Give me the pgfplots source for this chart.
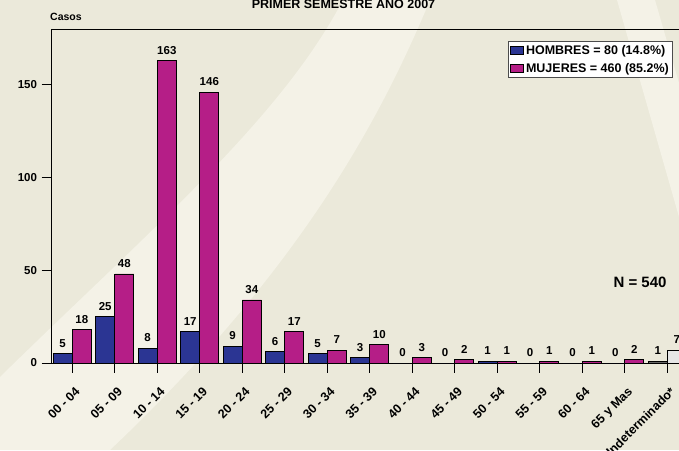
\documentclass[border=0pt]{standalone}
\usepackage{fontspec}
\setmainfont{Liberation Sans}
\usepackage{pgfplots}
\pgfplotsset{compat=1.18}

\definecolor{fondo}{HTML}{EBE9DA}
\definecolor{fondoclaro}{HTML}{F4F2E7}
\definecolor{hombres}{HTML}{2B3593}
\definecolor{mujeres}{HTML}{B51E87}
\definecolor{indet}{HTML}{666666}
\definecolor{indetclaro}{HTML}{E6E6E6}

\begin{document}
\begin{tikzpicture}[x=1pt,y=1pt]
\useasboundingbox (0,0) rectangle (679,450);
\clip (0,0) rectangle (679,450);
% fondo con franjas claras
\fill[fondo] (0,0) rectangle (679,450);
\fill[fondoclaro] (0,73) .. controls (150,220) and (280,330) .. (343,450)
  -- (430,450) .. controls (380,330) and (300,180) .. (110,0) -- (0,0) -- cycle;
\fill[fondoclaro] (617,450) -- (655,450) -- (679,367) -- (679,233) -- cycle;

\begin{axis}[
    at={(51pt,87pt)}, anchor=south west,
    scale only axis,
    width=658.75pt, height=334pt,
    xmin=-0.5, xmax=15,
    ymin=0, ymax=180,
    axis line style={black, line width=0.8pt},
    xtick={0,...,14},
    xticklabels={00 - 04, 05 - 09, 10 - 14, 15 - 19, 20 - 24, 25 - 29, 30 - 34,
                 35 - 39, 40 - 44, 45 - 49, 50 - 54, 55 - 59, 60 - 64,
                 65 y Mas, Indeterminado*},
    ytick={0,50,100,150},
    xtick pos=lower, ytick pos=left,
    tick align=outside,
    major tick length=9.5pt,
    tick style={black, line width=0.8pt},
    /pgf/number format/assume math mode=true,
    ticklabel style={font=\fontsize{11.5}{13}\selectfont\bfseries},
    x tick label style={font=\fontsize{12.5}{14}\selectfont\bfseries,
        rotate=45, anchor=north east, inner sep=1pt, xshift=-7pt, yshift=-10pt},
    y tick label style={xshift=-1pt},
    ybar, bar width=0.45,
    nodes near coords,
    every node near coord/.append style={font=\fontsize{11.5}{13}\selectfont\bfseries, yshift=2.5pt},
    legend style={at={(0.6937,0.964)}, anchor=north west,
        draw=black!70, line width=0.9pt, fill=white,
        font=\fontsize{12.5}{14}\selectfont\bfseries,
        inner xsep=2pt, inner ysep=2pt, row sep=3pt},
    legend cell align=left,
    legend image code/.code={\draw[#1, draw=black, line width=0.6pt] (0pt,-3.5pt) rectangle (13pt,4pt);},
]
\addplot[fill=hombres, draw=black, line width=0.8pt, bar shift=-0.225] coordinates {
  (0,5) (1,25) (2,8) (3,17) (4,9) (5,6) (6,5) (7,3) (8,0) (9,0) (10,1) (11,0) (12,0) (13,0)};
\addlegendentry{HOMBRES = 80 (14.8\%)}
\addplot[fill=mujeres, draw=black, line width=0.8pt, bar shift=0.225] coordinates {
  (0,18) (1,48) (2,163) (3,146) (4,34) (5,17) (6,7) (7,10) (8,3) (9,2) (10,1) (11,1) (12,1) (13,2)};
\addlegendentry{MUJERES = 460 (85.2\%)}
\addplot[fill=indet, draw=black, line width=0.8pt, bar shift=-0.225, forget plot] coordinates {(14,1)};
\addplot[fill=indetclaro, draw=black, line width=0.8pt, bar shift=0.225, forget plot] coordinates {(14,7)};
\end{axis}

\node[anchor=base, font=\fontsize{12.5}{14}\selectfont\bfseries] at (343.5,441) {PRIMER SEMESTRE AÑO 2007};
\node[anchor=base west, inner sep=0pt, font=\fontsize{10.5}{12}\selectfont\bfseries] at (50,429) {Casos};
\node[anchor=base, inner sep=0pt, font=\fontsize{15}{17}\selectfont\bfseries] at (640,163) {N = 540};
\end{tikzpicture}
\end{document}
